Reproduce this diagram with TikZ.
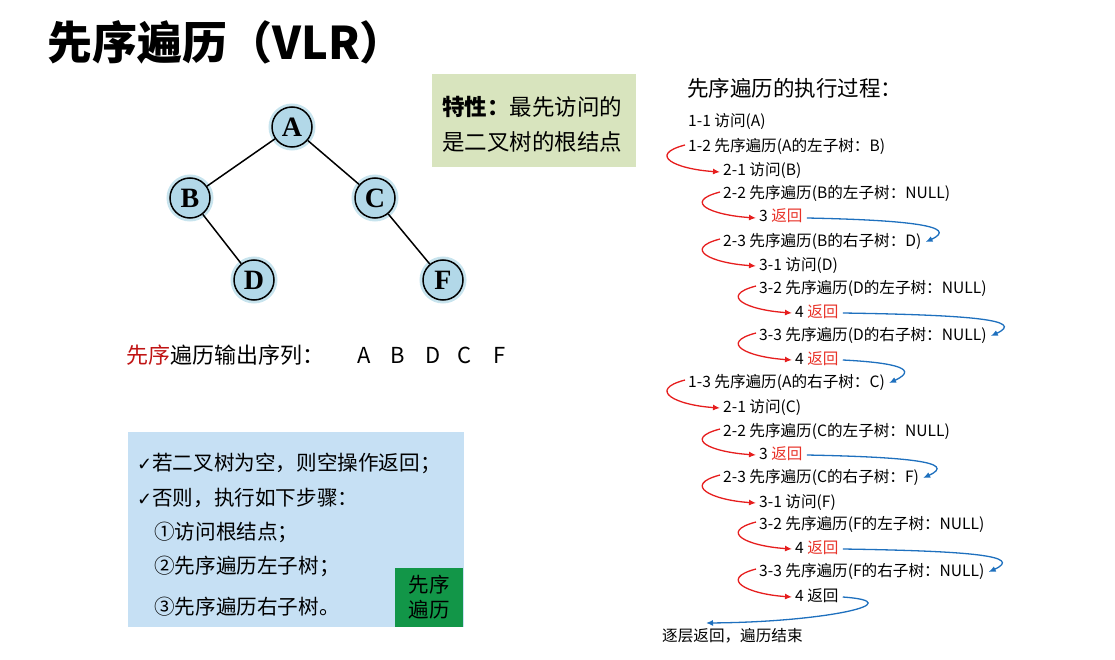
\documentclass[tikz,border=0pt]{standalone}
\usepackage{fontspec}
\setmainfont{Noto Sans CJK SC}
\newfontfamily\treefont{Liberation Serif}
\newfontfamily\symfont{DejaVu Sans}
\usetikzlibrary{arrows.meta, calc}
\definecolor{treeFill}{RGB}{178, 216, 232}
\definecolor{treeHalo}{RGB}{200, 228, 238}
\definecolor{noteGreen}{RGB}{216, 228, 190}
\definecolor{ruleBlue}{RGB}{198, 224, 244}
\definecolor{tagGreen}{RGB}{18, 150, 72}
\definecolor{preRed}{RGB}{192, 20, 20}
\definecolor{retRed}{RGB}{232, 50, 40}
\definecolor{arrowRed}{RGB}{230, 30, 30}
\definecolor{arrowBlue}{RGB}{30, 112, 190}
\tikzset{
  treenode/.style={
    circle, draw=black, line width=1.5pt,
    fill=treeFill, minimum size=40pt, inner sep=0pt,
    font=\treefont\bfseries\fontsize{28}{28}\selectfont,
    preaction={draw=treeHalo, line width=7pt}
  },
  treeedge/.style={line width=1.5pt},
  stepline/.style={
    anchor=west, inner sep=0pt,
    font=\fontsize{15.6}{18}\selectfont,
    text height=11pt, text depth=3pt
  },
  rulestep/.style={anchor=west, inner sep=0pt, font=\fontsize{20.6}{24}\selectfont},
  redarrow/.style={-{Latex[length=7pt,width=6pt]}, draw=arrowRed, line width=1.3pt},
  bluearrow/.style={-{Latex[length=7pt,width=6pt]}, draw=arrowBlue, line width=1.3pt}
}

\begin{document}
\begin{tikzpicture}[x=1pt, y=-1pt]
\useasboundingbox (0,0) rectangle (1115,660);

\def\colA{688}
\def\colB{723}
\def\colC{759}
\def\colD{795}

%% TITLE
\node[anchor=west, inner sep=0pt, font=\bfseries\fontsize{45}{45}\selectfont] (title) at (47,42) {先序遍历（VLR）};

%% TREE
\node[treenode] (A) at (292,127) {A};
\node[treenode] (B) at (190,198) {B};
\node[treenode] (C) at (375,198) {C};
\node[treenode] (D) at (254,280) {D};
\node[treenode] (F) at (443,280) {F};
\draw[treeedge] (A) -- (B);
\draw[treeedge] (A) -- (C);
\draw[treeedge] (B) -- (D);
\draw[treeedge] (C) -- (F);

%% NOTE
\node[fill=noteGreen, minimum width=204pt, minimum height=93pt] (note) at (534,121) {};
\node[anchor=west, inner sep=0pt, font=\fontsize{22.5}{22}\selectfont] (note1) at (442,107) {\textbf{特性：}最先访问的};
\node[anchor=west, inner sep=0pt, font=\fontsize{22.5}{22}\selectfont] (note2) at (442,142) {是二叉树的根结点};

%% OUTPUT SEQUENCE
\node[anchor=west, inner sep=0pt, font=\fontsize{22}{22}\selectfont] (seqlabel) at (126,355) {\textcolor{preRed}{先序}遍历输出序列：};
\node[anchor=west, inner sep=0pt, font=\fontsize{22}{22}\selectfont] (seq) at (357,355) {A\hspace{20pt}B\hspace{20pt}D\hspace{17pt}C\hspace{22pt}F};

%% RULE BOX
\node[fill=ruleBlue, minimum width=336pt, minimum height=195pt] (rules) at (296,529.5) {};
\node[rulestep] (s1) at (137,463) {{\symfont\fontsize{18}{18}\selectfont ✓}若二叉树为空，则空操作返回；};
\node[rulestep] (s2) at (137,498) {{\symfont\fontsize{18}{18}\selectfont ✓}否则，执行如下步骤：};
\node[rulestep] (s3) at (154,532) {①访问根结点；};
\node[rulestep] (s4) at (154,566) {②先序遍历左子树；};
\node[rulestep] (s5) at (154,607) {③先序遍历右子树。};
\node[fill=tagGreen, minimum width=68pt, minimum height=59pt, align=center,
  font=\fontsize{20.5}{25}\selectfont] (tag) at (429,597.5) {先序\\遍历};

%% TRACE
\node[anchor=west, inner sep=0pt, font=\fontsize{21.5}{21}\selectfont] (tracehead) at (687,88) {先序遍历的执行过程：};
\node[stepline] (v11) at (\colA,123) {1-1 访问(A)};
\node[stepline] (t12) at (\colA,148) {1-2 先序遍历(A的左子树：B)};
\node[stepline] (v21b) at (\colB,172) {2-1 访问(B)};
\node[stepline] (t22b) at (\colB,195) {2-2 先序遍历(B的左子树：NULL)};
\node[stepline] (r3b) at (\colC,218) {3 \textcolor{retRed}{返回}};
\node[stepline] (t23b) at (\colB,242) {2-3 先序遍历(B的右子树：D)};
\node[stepline] (v31d) at (\colC,266) {3-1 访问(D)};
\node[stepline] (t32d) at (\colC,289) {3-2 先序遍历(D的左子树：NULL)};
\node[stepline] (r4d1) at (\colD,313) {4 \textcolor{retRed}{返回}};
\node[stepline] (t33d) at (\colC,336) {3-3 先序遍历(D的右子树：NULL)};
\node[stepline] (r4d2) at (\colD,360) {4 \textcolor{retRed}{返回}};
\node[stepline] (t13) at (\colA,383) {1-3 先序遍历(A的右子树：C)};
\node[stepline] (v21c) at (\colB,408) {2-1 访问(C)};
\node[stepline] (t22c) at (\colB,432) {2-2 先序遍历(C的左子树：NULL)};
\node[stepline] (r3c) at (\colC,455) {3 \textcolor{retRed}{返回}};
\node[stepline] (t23c) at (\colB,478) {2-3 先序遍历(C的右子树：F)};
\node[stepline] (v31f) at (\colC,503) {3-1 访问(F)};
\node[stepline] (t32f) at (\colC,525) {3-2 先序遍历(F的左子树：NULL)};
\node[stepline] (r4f1) at (\colD,549) {4 \textcolor{retRed}{返回}};
\node[stepline] (t33f) at (\colC,572) {3-3 先序遍历(F的右子树：NULL)};
\node[stepline] (r4f2) at (\colD,597) {4 返回};
\node[stepline] (fin) at (662,637) {逐层返回，遍历结束};
\coordinate (finend) at (706,623);

%% ARROWS
% calls: red, into the next level
\foreach \a/\b in {t12/v21b, t22b/r3b, t23b/v31d, t32d/r4d1, t33d/r4d2,
                   t13/v21c, t22c/r3c, t23c/v31f, t32f/r4f1, t33f/r4f2}
  \draw[redarrow] ([xshift=-3pt,yshift=3pt]\a.west)
    .. controls +(-38,10) and +(-45,-3) .. ([xshift=-3pt]\b.west);

% returns: blue, back to the calling step
\foreach \a/\b/\d in {r3b/t23b/100, r4d1/t33d/130, r4d2/t13/40,
                      r3c/t23c/100, r4f1/t33f/130}
  \draw[bluearrow] ([xshift=4pt]\a.east)
    .. controls +(\d,2) and +(35,-16) .. ([xshift=4pt]\b.east);

\draw[bluearrow] ([xshift=4pt]r4f2.east)
  .. controls +(70,5) and +(122,-1) .. (finend);

\end{tikzpicture}
\end{document}
